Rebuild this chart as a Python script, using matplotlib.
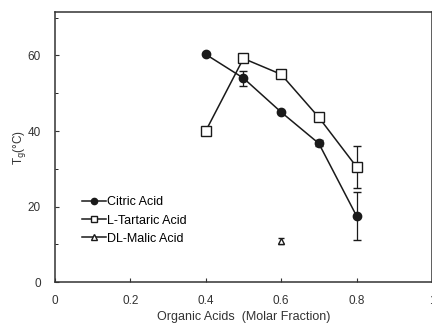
import matplotlib
matplotlib.use("Agg")
import matplotlib.pyplot as plt
from matplotlib.ticker import MultipleLocator
from matplotlib.lines import Line2D

plt.rcParams['font.family'] = ['Liberation Sans', 'DejaVu Sans']

x_citric = [0.4, 0.5, 0.6, 0.7, 0.8]
y_citric = [60.3, 54.0, 45.0, 36.7, 17.5]
e_citric = [0.0, 2.0, 0.0, 0.8, 6.3]

x_tartaric = [0.4, 0.5, 0.6, 0.7, 0.8]
y_tartaric = [40.0, 59.2, 55.0, 43.6, 30.5]
e_tartaric = [0.0, 0.8, 0.0, 0.0, 5.6]

x_malic = [0.6]
y_malic = [11.0]
e_malic = [0.8]

labels = ['Citric Acid', 'L-Tartaric Acid', 'DL-Malic Acid']

fig = plt.figure(figsize=(4.32, 3.25), dpi=100)
ax = fig.add_axes([0.127, 0.132, 0.873, 0.831])

col = '#1a1a1a'
ax.errorbar(x_citric, y_citric, yerr=e_citric, color=col, marker='o', ms=6,
            mfc=col, mec=col, lw=1.1, capsize=3, elinewidth=0.9)
ax.errorbar(x_tartaric, y_tartaric, yerr=e_tartaric, color=col, marker='s', ms=7,
            mfc='white', mec=col, lw=1.1, capsize=3, elinewidth=0.9)
ax.errorbar(x_malic, y_malic, yerr=e_malic, color=col, marker='^', ms=5,
            mfc='white', mec=col, lw=1.1, capsize=2, elinewidth=0.9)

ax.set_xlim(0, 1)
ax.set_ylim(0, 71.5)
ax.set_xticks([0, 0.2, 0.4, 0.6, 0.8, 1.0])
ax.set_xticklabels(['0', '0.2', '0.4', '0.6', '0.8', '1'])
ax.set_yticks([0, 20, 40, 60])
ax.yaxis.set_minor_locator(MultipleLocator(10))
ax.tick_params(direction='in', labelsize=8.5, length=3, colors='#333333')
ax.tick_params(axis='x', pad=9)
ax.tick_params(axis='y', pad=10)
ax.tick_params(which='minor', direction='in', length=2)
for s in ax.spines.values():
    s.set_linewidth(1.1)
    s.set_color('#333333')

ax.set_xlabel('Organic Acids  (Molar Fraction)', fontsize=9, labelpad=3, color='#333333')
ax.set_ylabel(r'T$_\mathrm{g}$(°C)', fontsize=8.5, labelpad=0, color='#333333')

handles = [
    Line2D([], [], color=col, lw=1.1, marker='o', ms=4.5, mfc=col, mec=col),
    Line2D([], [], color=col, lw=1.1, marker='s', ms=5, mfc='white', mec=col),
    Line2D([], [], color=col, lw=1.1, marker='^', ms=4.5, mfc='white', mec=col),
]
ax.legend(handles, labels, loc='lower left', bbox_to_anchor=(0.055, 0.115),
          frameon=False, fontsize=9, borderpad=0, handlelength=1.9,
          handletextpad=0.1, labelspacing=0.5)

fig.savefig('out.png', dpi=100)
